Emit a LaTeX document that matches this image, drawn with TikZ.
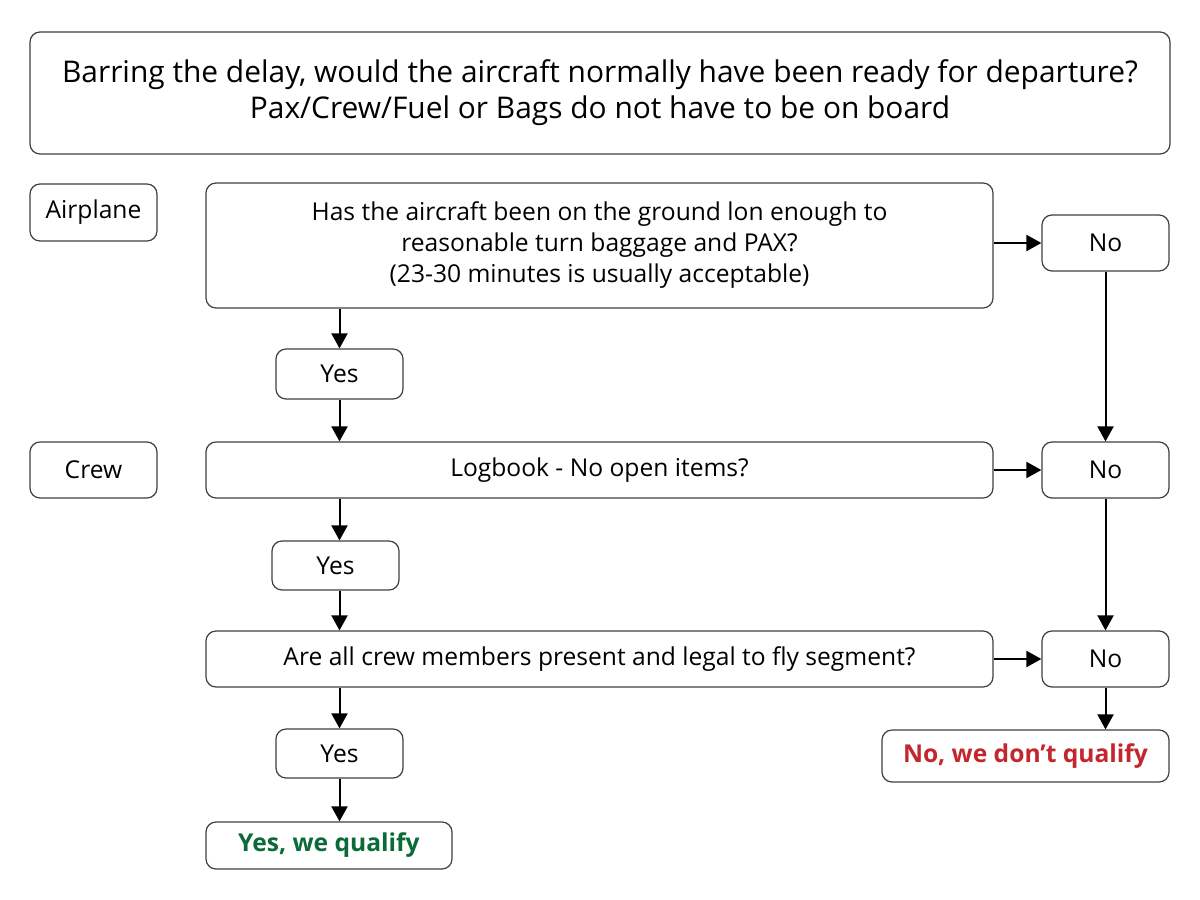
\documentclass[tikz,border=0pt]{standalone}
\usepackage{fontspec}
\setmainfont{Open Sans}
\usetikzlibrary{arrows.meta}
\definecolor{qgreen}{HTML}{0B6B38}
\definecolor{qred}{HTML}{C4262E}
\begin{document}
\begin{tikzpicture}[x=1pt,y=-1pt,
 box/.style={draw=black!75, line width=1.2pt, rounded corners=10pt, inner sep=0pt, align=center, font=\fontsize{24.6}{31}\selectfont},
 arr/.style={-{Triangle[length=15pt,width=16pt]}, line width=2pt}]
\useasboundingbox[fill=white] (0,0) rectangle (1200,900);
\node[box, minimum width=1140pt, minimum height=122pt, font=\fontsize{29.9}{36}\selectfont] (title) at (600,93) {Barring the delay, would the aircraft normally have been ready for departure?\\Pax/Crew/Fuel or Bags do not have to be on board};
\node[box, minimum width=127pt, minimum height=57pt] (airplane) at (93.5,212.5) {Airplane};
\node[box, minimum width=127pt, minimum height=56pt] (crew) at (93.5,470) {Crew};
\node[box, minimum width=787pt, minimum height=125pt] (q1) at (599.5,245.5) {Has the aircraft been on the ground lon enough to\\reasonable turn baggage and PAX?\\(23-30 minutes is usually acceptable)};
\node[box, minimum width=127pt, minimum height=56pt] (no1) at (1105.5,243) {No};
\node[box, minimum width=127pt, minimum height=50pt] (yes1) at (339.5,374) {Yes};
\node[box, minimum width=787pt, minimum height=56pt] (q2) at (599.5,470) {Logbook - No open items?};
\node[box, minimum width=127pt, minimum height=56pt] (no2) at (1105.5,470) {No};
\node[box, minimum width=127pt, minimum height=49pt] (yes2) at (335.5,565.5) {Yes};
\node[box, minimum width=787pt, minimum height=56pt] (q3) at (599.5,659) {Are all crew members present and legal to fly segment?};
\node[box, minimum width=127pt, minimum height=56pt] (no3) at (1105.5,659) {No};
\node[box, minimum width=127pt, minimum height=49pt] (yes3) at (339.5,753.5) {Yes};
\node[box, minimum width=246pt, minimum height=47pt, text=qgreen] (yesq) at (329,845.5) {\bfseries Yes, we qualify};
\node[box, minimum width=287pt, minimum height=52pt, text=qred] (noq) at (1025.5,756) {\bfseries No, we don’t qualify};
% left column
\draw[arr] (q1.south -| yes1.north) -- (yes1.north);
\draw[arr] (yes1.south) -- (yes1.south |- q2.north);
\draw[arr] (q2.south -| yes1.south) -- (yes1.south |- yes2.north);
\draw[arr] (yes2.south -| yes1.south) -- (yes1.south |- q3.north);
\draw[arr] (q3.south -| yes3.north) -- (yes3.north);
\draw[arr] (yes3.south) -- (yes3.south |- yesq.north);
% right column
\draw[arr] (q1.east |- no1.west) -- (no1.west);
\draw[arr] (no1.south) -- (no2.north);
\draw[arr] (q2.east) -- (no2.west);
\draw[arr] (no2.south) -- (no3.north);
\draw[arr] (q3.east) -- (no3.west);
\draw[arr] (no3.south) -- (no3.south |- noq.north);
\end{tikzpicture}
\end{document}
